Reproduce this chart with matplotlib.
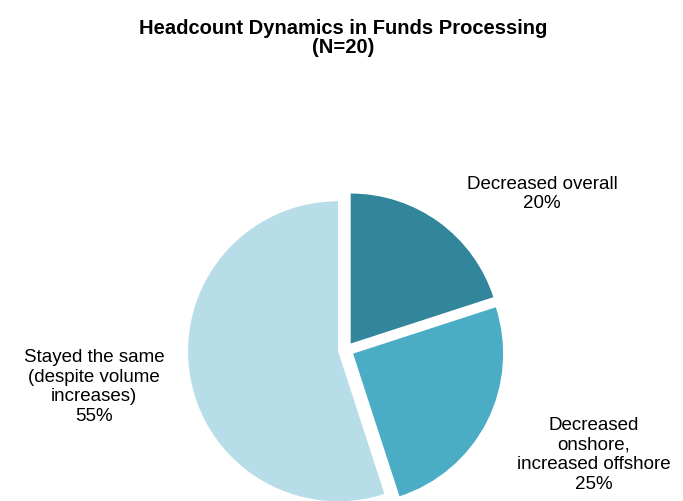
import matplotlib.pyplot as plt

labels = ['Decreased overall\n20%',
          'Decreased\nonshore,\nincreased offshore\n25%',
          'Stayed the same\n(despite volume\nincreases)\n55%']
shares = [20, 25, 55]
colors = ['#31869B', '#4BACC6', '#B7DEE8']

# label centres in pixel coords (y measured from top)
label_pos = [(542, 194), (594, 455), (94, 387)]

plt.rcParams['font.family'] = ['Liberation Sans', 'DejaVu Sans']

fig = plt.figure(figsize=(6.83, 5.02), dpi=100)
ax = fig.add_axes([0, 0, 1, 1])

# pie in pixel units; ylim is inverted so the angles run the other way
wedges, _ = ax.pie(shares, colors=colors, startangle=-90, counterclock=True,
                   center=(346, 351), radius=150, explode=[8, 8, 8],
                   frame=True, wedgeprops=dict(linewidth=0))
ax.set_xlim(0, 683)
ax.set_ylim(502, 0)
ax.set_aspect('equal')
ax.axis('off')

for txt, (x, y) in zip(labels, label_pos):
    ax.text(x, y, txt, ha='center', va='center', fontsize=13.5,
            linespacing=1.2, color='black')

ax.text(343, 38, 'Headcount Dynamics in Funds Processing\n(N=20)',
        ha='center', va='center', fontsize=14.5, fontweight='bold',
        linespacing=1.05)

fig.savefig('out.png', dpi=100)
